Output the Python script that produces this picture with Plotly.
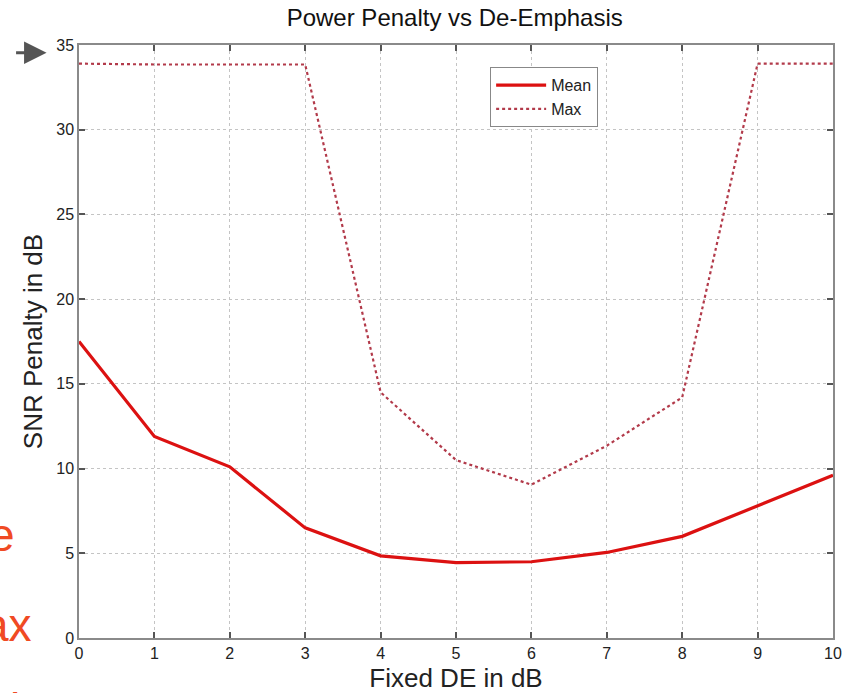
import plotly.graph_objects as go

de_db = [0, 1, 2, 3, 4, 5, 6, 7, 8, 9, 10]
mean_penalty = [17.5, 11.9, 10.1, 6.5, 4.85, 4.45, 4.5, 5.05, 6.0, 7.8, 9.6]
max_penalty = [33.9, 33.85, 33.85, 33.85, 14.5, 10.5, 9.05, 11.35, 14.2, 33.9, 33.9]

x_ticks = list(range(0, 11))
y_ticks = [0, 5, 10, 15, 20, 25, 30, 35]

FONT = "Liberation Sans, Arial, Helvetica, sans-serif"

fig = go.Figure()
fig.add_trace(go.Scatter(x=de_db, y=mean_penalty, mode="lines", name="Mean",
                         line=dict(color="#dc1111", width=3.2)))
fig.add_trace(go.Scatter(x=de_db, y=max_penalty, mode="lines", name="Max",
                         line=dict(color="#b23a4a", width=2.2, dash="dot")))

axis_common = dict(showgrid=True, gridcolor="#c4c4c4", griddash="dot", gridwidth=1,
                   showline=True, linecolor="#8a8a8a", linewidth=1.5, mirror="ticks",
                   ticks="inside", ticklen=6, tickcolor="#555555", tickwidth=1.5,
                   zeroline=False, automargin=False,
                   tickfont=dict(family=FONT, size=16, color="#222222"))

fig.update_xaxes(range=[0, 10], tickvals=x_ticks,
                 title=dict(text="Fixed DE in dB", font=dict(family=FONT, size=26, color="#222222"), standoff=10),
                 **axis_common)
fig.update_yaxes(range=[0, 35], tickvals=y_ticks,
                 title=dict(text="SNR Penalty in dB", font=dict(family=FONT, size=26, color="#222222"), standoff=6),
                 **axis_common)

fig.update_layout(
    width=850, height=693,
    margin=dict(l=79, r=17, t=45, b=55),
    paper_bgcolor="white", plot_bgcolor="white",
    title=dict(text="Power Penalty vs De-Emphasis", x=0.535, xanchor="center", y=0.974, yanchor="middle",
               font=dict(family=FONT, size=24, color="#111111")),
    showlegend=True,
    legend=dict(x=0.545, y=0.963, xanchor="left", yanchor="top",
                bordercolor="#888888", borderwidth=1.2, bgcolor="white",
                font=dict(family=FONT, size=16, color="#222222"), tracegroupgap=0,
                itemwidth=50),
    annotations=[
        dict(xref="paper", yref="paper", x=-0.043, y=0.987, ax=-32, ay=0,
             showarrow=True, arrowhead=2, arrowsize=1.5, arrowwidth=3, arrowcolor="#555555", text=""),
        dict(xref="paper", yref="paper", x=-0.082, y=0.173, xanchor="right", yanchor="middle",
             text="e", showarrow=False, font=dict(family=FONT, size=46, color="#f04a23")),
        dict(xref="paper", yref="paper", x=-0.06, y=0.022, xanchor="right", yanchor="middle",
             text="ax", showarrow=False, font=dict(family=FONT, size=46, color="#f04a23")),
        dict(xref="paper", yref="paper", x=-0.085, y=-0.075, xanchor="center", yanchor="top",
             text="l", showarrow=False, font=dict(family=FONT, size=46, color="#f04a23")),
    ],
)

fig.write_html("out.html")
